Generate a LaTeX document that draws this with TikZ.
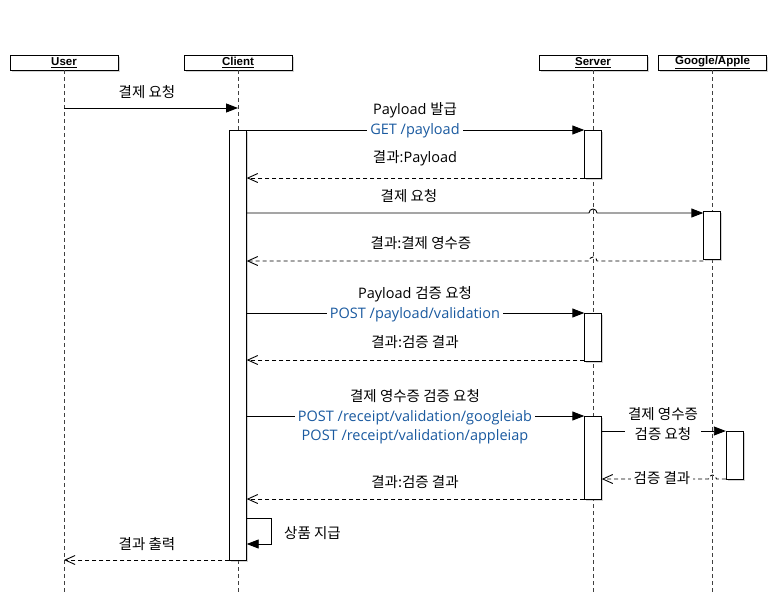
\documentclass[tikz,border=0pt]{standalone}
\usepackage{fontspec}
\setmainfont{Open Sans}
\newfontfamily\kr{Noto Sans CJK KR}
\newfontfamily\hdfont{Liberation Sans}
\usetikzlibrary{arrows.meta,shadows,calc}
\definecolor{apiblue}{RGB}{26,90,160}
\tikzstyle{head} = [draw, fill=white, minimum width=108pt, minimum height=15pt, inner sep=0pt, font=\hdfont\fontsize{11.5}{12}\selectfont\bfseries, drop shadow={shadow xshift=1.5pt,shadow yshift=-1.5pt,opacity=0.35}]
\tikzstyle{act} = [draw, fill=white, minimum width=17pt, inner sep=0pt, drop shadow={shadow xshift=1.5pt,shadow yshift=-1.5pt,opacity=0.35}]
\tikzstyle{life} = [black!75, dash pattern=on 4pt off 3pt]
\tikzstyle{call} = [line width=0.9pt, -{Triangle[length=12pt,width=9pt]}]
\tikzstyle{reply} = [line width=0.9pt, dash pattern=on 4pt off 3pt, -{Straight Barb[length=10pt,width=9pt]}]
\tikzstyle{lbl} = [fill=white, inner sep=3pt, align=center, font=\fontsize{14.5}{19.5}\selectfont]
\newcommand{\api}[1]{\textcolor{apiblue}{#1}}

\begin{document}
\begin{tikzpicture}[x=1pt,y=-1pt]
\useasboundingbox (0,0) rectangle (770,600);

% participants
\node[head] (user) at (64,62.5) {\underline{User}};
\node[head] (client) at (238,62.5) {\underline{Client}};
\node[head] (server) at (593,62.5) {\underline{Server}};
\node[head] (store) at (712.5,62.5) {\underline{Google/Apple}};

\coordinate (bottom) at (0,595);
\foreach \n in {user,client,server,store} {
\draw[life] (\n.south) -- (\n.south |- bottom);
}

% activations
\node[act, minimum height=430pt] (cact) at (238,345) {};
\node[act, minimum height=48pt] (sact1) at (593,154) {};
\node[act, minimum height=48pt] (gact1) at (712,235) {};
\node[act, minimum height=48pt] (sact2) at (593,337) {};
\node[act, minimum height=83pt] (sact3) at (593,457.5) {};
\node[act, minimum height=48pt] (gact2) at (734.5,455) {};

% message rows
\coordinate (r1) at (0,108);
\coordinate (r2) at (0,130);
\coordinate (r3) at (0,178);
\coordinate (r4) at (0,213);
\coordinate (r5) at (0,261);
\coordinate (r6) at (0,313);
\coordinate (r7) at (0,360);
\coordinate (r8) at (0,416);
\coordinate (r9) at (0,431);
\coordinate (r10) at (0,479);
\coordinate (r11) at (0,499);
\coordinate (r12) at (0,518);
\coordinate (r12b) at (0,544);
\coordinate (r13) at (0,560);

\draw[call] (user |- r1) -- (client |- r1);
\draw[call] (cact.east |- r2) -- (sact1.west |- r2);
\draw[reply] (sact1.west |- r3) -- (cact.east |- r3);
\draw[call] (cact.east |- r4) -- ($(server |- r4)+(-4,0)$) arc[start angle=180,end angle=0,radius=4pt] -- (gact1.west |- r4);
\draw[reply] (gact1.west |- r5) -- ($(server |- r5)+(4,0)$) arc[start angle=0,end angle=180,radius=4pt] -- (cact.east |- r5);
\draw[call] (cact.east |- r6) -- (sact2.west |- r6);
\draw[reply] (sact2.west |- r7) -- (cact.east |- r7);
\draw[call] (cact.east |- r8) -- (sact3.west |- r8);
\draw[call] (sact3.east |- r9) -- (gact2.west |- r9);
\draw[reply] (gact2.west |- r10) -- ($(store |- r10)+(4,0)$) arc[start angle=0,end angle=180,radius=4pt] -- (sact3.east |- r10);
\draw[reply] (sact3.west |- r11) -- (cact.east |- r11);
\draw[call] (cact.east |- r12) -- ++(25,0) |- (cact.east |- r12b);
\draw[reply] (cact.west |- r13) -- (user |- r13);

% labels
\node[lbl] (t1) at (147,92) {\kr 결제 요청};
\node[lbl] (t2) at (415,120) {Payload {\kr 발급}\\\api{GET /payload}};
\node[lbl] (t3) at (415,158) {{\kr 결과}:Payload};
\node[lbl] (t4) at (409,196) {\kr 결제 요청};
\node[lbl] (t5) at (421,243) {\kr 결과:결제 영수증};
\node[lbl] (t6) at (415,304) {Payload {\kr 검증 요청}\\\api{POST /payload/validation}};
\node[lbl] (t7) at (415,342) {\kr 결과:검증 결과};
\node[lbl] (t8) at (415,417) {{\kr 결제 영수증 검증 요청}\\\api{POST /receipt/validation/googleiab}\\\api{POST /receipt/validation/appleiap}};
\node[lbl] (t9) at (663,424) {{\kr 결제 영수증}\\{\kr 검증 요청}};
\node[lbl] (t10) at (662,478) {\kr 검증 결과};
\node[lbl] (t11) at (415,482) {\kr 결과:검증 결과};
\node[lbl, anchor=west] (t12) at (281,533) {\kr 상품 지급};
\node[lbl] (t13) at (147,544) {\kr 결과 출력};
\end{tikzpicture}
\end{document}
